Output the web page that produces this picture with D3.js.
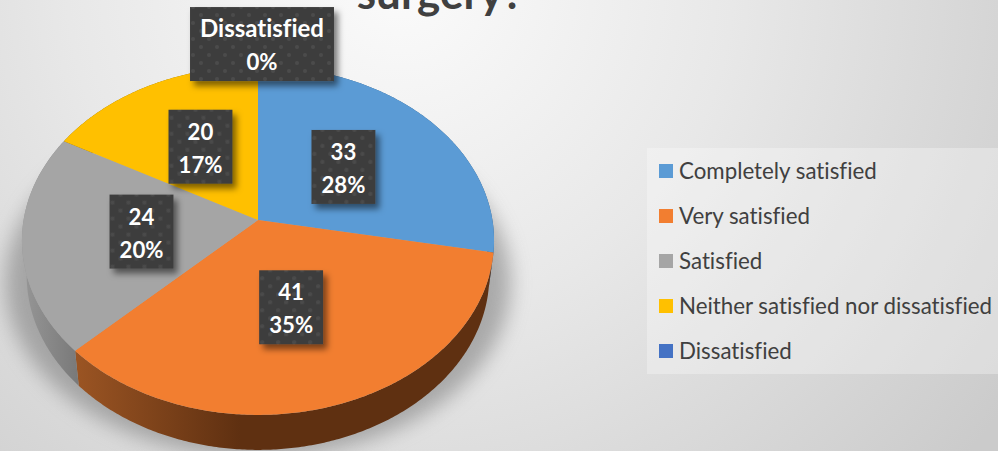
<!DOCTYPE html>
<html><head><meta charset="utf-8">
<script src="https://cdn.jsdelivr.net/npm/d3@7"></script>
<style>html,body{margin:0;padding:0;background:#fff}svg{display:block}text{font-variant-ligatures:none;font-feature-settings:"liga" 0,"clig" 0}</style>
</head><body><svg id="c" width="998" height="451"></svg>
<script>
// Data
const categories = ["Completely satisfied","Very satisfied","Satisfied","Neither satisfied nor dissatisfied","Dissatisfied"];
const counts = [33,41,24,20,0];
const percents = ["28%","35%","20%","17%","0%"];
const topLines = ["33","41","24","20","Dissatisfied"];
const faceColors = ["#5b9bd5","#f27e30","#a5a5a5","#ffc000","#4472c4"];
const titleText = "surgery?";

// Layout
const W=998,H=451, cx=258, cy=220;
const k=0.1175, A=234.4, B=172;
const depth=35, bottomScale=0.98;
const labelFraction=0.5;
const labelNudge=[[1.5,-2],[-5,-5.5],[1.5,0],[-3.5,-6],[4,-99]];
const font="Lato, Carlito, sans-serif";

const svg=d3.select("#c");
const defs=svg.append("defs");

const bg=defs.append("radialGradient").attr("id","bg").attr("gradientUnits","userSpaceOnUse")
  .attr("cx",400).attr("cy",-20).attr("r",740);
bg.append("stop").attr("offset",0).attr("stop-color","#fbfbfb");
bg.append("stop").attr("offset",.45).attr("stop-color","#e8e8e8");
bg.append("stop").attr("offset",1).attr("stop-color","#cbcbcb");

defs.append("filter").attr("id","soft").attr("x","-20%").attr("y","-20%").attr("width","140%").attr("height","140%")
  .append("feGaussianBlur").attr("stdDeviation",10);

const pat=defs.append("pattern").attr("id","dots").attr("patternUnits","userSpaceOnUse").attr("width",16).attr("height",16);
pat.append("rect").attr("width",16).attr("height",16).attr("fill","#3e3e3e");
[[3,3],[11,11]].forEach(p=>pat.append("circle").attr("cx",p[0]).attr("cy",p[1]).attr("r",2).attr("fill","#4b4b4b"));

const boxShadow=defs.append("filter").attr("id","boxShadow").attr("x","-30%").attr("y","-30%").attr("width","170%").attr("height","170%");
boxShadow.append("feDropShadow").attr("dx",4).attr("dy",5).attr("stdDeviation",3).attr("flood-color","#000").attr("flood-opacity",.5);

const orangeSide=defs.append("linearGradient").attr("id","side1").attr("gradientUnits","userSpaceOnUse")
  .attr("x1",78).attr("x2",240).attr("y1",0).attr("y2",0);
orangeSide.append("stop").attr("offset",0).attr("stop-color","#9a5423");
orangeSide.append("stop").attr("offset",1).attr("stop-color","#5f3011");
const graySide=defs.append("linearGradient").attr("id","side2").attr("gradientUnits","userSpaceOnUse")
  .attr("x1",25).attr("x2",82).attr("y1",0).attr("y2",0);
graySide.append("stop").attr("offset",0).attr("stop-color","#959595");
graySide.append("stop").attr("offset",1).attr("stop-color","#777777");

svg.append("rect").attr("width",W).attr("height",H).attr("fill","url(#bg)");

function project(theta,scale=1,drop=0){
  const u=Math.sin(theta), v=Math.cos(theta), d=1+k*v;
  return [cx+scale*A*u/d, cy-B*v/d+drop];
}
const slices=d3.pie().sort(null).value(d=>d)(counts);
const line=d3.line();
const arcPts=(a0,a1,s,dr)=>{
  const n=Math.max(2,Math.ceil((a1-a0)/0.01));
  return d3.range(n+1).map(i=>project(a0+(a1-a0)*i/n,s,dr));
};

svg.append("text").attr("x",440).attr("y",9).attr("text-anchor","middle")
  .attr("font-family",font).attr("font-weight",700).attr("font-size",44).attr("fill","#404040").text(titleText);

const full=arcPts(0,2*Math.PI,1.07,42);
svg.append("path").attr("d",line(full)+"Z").attr("fill","#777").attr("opacity",.55).attr("filter","url(#soft)");

const sideFill=["#2f5d86","url(#side1)","url(#side2)","#8a6a00","#2a4a80"];
svg.append("g").selectAll("path").data(slices).join("path")
  .attr("d",d=>{
    const a=arcPts(d.startAngle,d.endAngle,1,0), b=arcPts(d.startAngle,d.endAngle,bottomScale,depth).reverse();
    return line(a.concat(b))+"Z";
  }).attr("fill",(d,i)=>sideFill[i]);

svg.append("g").selectAll("path").data(slices).join("path")
  .attr("d",d=>line([[cx,cy]].concat(arcPts(d.startAngle,d.endAngle,1,0)))+"Z")
  .attr("fill",(d,i)=>faceColors[i]);

const labelG=svg.append("g").attr("font-family",font).attr("font-weight",700).attr("text-anchor","middle").attr("fill","#fff");
slices.forEach((d,i)=>{
  const mid=(d.startAngle+d.endAngle)/2, p=project(mid);
  const x=cx+(p[0]-cx)*labelFraction+labelNudge[i][0], y=cy+(p[1]-cy)*labelFraction+labelNudge[i][1];
  const g=labelG.append("g").attr("transform",`translate(${x},${y})`);
  const rect=g.append("rect").attr("fill","url(#dots)").attr("filter","url(#boxShadow)");
  const t1=g.append("text").attr("y",-7).attr("font-size",topLines[i].length>3?24:22.2).text(topLines[i]);
  const t2=g.append("text").attr("y",26).attr("font-size",22.2).text(percents[i]);
  const w=Math.max(t1.node().getComputedTextLength(),t2.node().getComputedTextLength())+20;
  rect.attr("x",-w/2).attr("y",-37).attr("width",w).attr("height",74);
});

const legend=svg.append("g");
legend.append("rect").attr("x",647).attr("y",148).attr("width",351).attr("height",226).attr("fill","#fff").attr("opacity",.3);
const rowY=d3.scalePoint().domain(categories).range([171,351]);
const row=legend.selectAll("g").data(categories).join("g").attr("transform",d=>`translate(659,${rowY(d)})`);
row.append("rect").attr("y",-7).attr("width",14).attr("height",14).attr("fill",(d,i)=>faceColors[i]);
row.append("text").attr("x",20).attr("y",7.5).attr("font-family",font).attr("font-size",22.3).attr("fill","#404040").text(d=>d);
</script></body></html>
